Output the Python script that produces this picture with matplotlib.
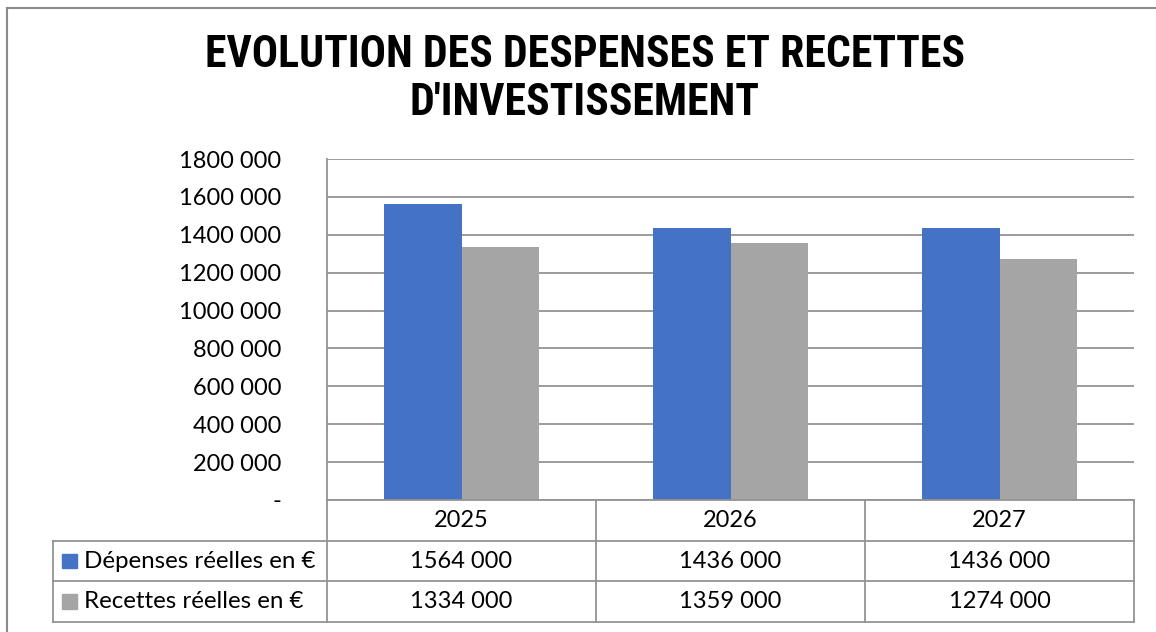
import matplotlib.pyplot as plt
from matplotlib import font_manager
from matplotlib.patches import Rectangle
from matplotlib.lines import Line2D
from matplotlib.ticker import FuncFormatter

years = ["2025", "2026", "2027"]
depenses = [1564000, 1436000, 1436000]
recettes = [1334000, 1359000, 1274000]
series_names = ["Dépenses réelles en €", "Recettes réelles en €"]
series_colors = ["#4472C4", "#A5A5A5"]
title = "EVOLUTION DES DESPENSES ET RECETTES\nD'INVESTISSEMENT"

W, H = 1156, 632
LINE_C = "#939393"
TXT_FONT = ["Lato", "DejaVu Sans"]


def fmt(v):
    # excel style "# ##0", zero shown as a dash
    if v == 0:
        return "-"
    v = int(round(v))
    if v < 1000:
        return str(v)
    return f"{v // 1000} {v % 1000:03d}"


def has_font(name):
    try:
        font_manager.findfont(font_manager.FontProperties(family=name),
                              fallback_to_default=False)
        return True
    except Exception:
        return False


def main():
    fig = plt.figure(figsize=(W / 100, H / 100), dpi=100)

    # plot area, pixel box 327..1134 x 159..500
    ax = fig.add_axes([327 / W, 1 - 500 / H, (1134 - 327) / W, (500 - 159) / H])
    x = list(range(len(years)))
    bw = 0.288
    ax.bar([i - bw / 2 for i in x], depenses, width=bw, color=series_colors[0], zorder=3)
    ax.bar([i + bw / 2 for i in x], recettes, width=bw, color=series_colors[1], zorder=3)
    ax.set_xlim(-0.5, len(years) - 0.5)
    ax.set_ylim(0, 1800000)
    ax.set_yticks(range(0, 1800001, 200000))
    ax.yaxis.set_major_formatter(FuncFormatter(lambda v, p: fmt(v)))
    ax.set_xticks([])
    ax.tick_params(axis="y", length=0, pad=33, labelsize=17)
    for lab in ax.get_yticklabels():
        lab.set_family(TXT_FONT)
    ax.grid(axis="y", color=LINE_C, linewidth=1.3, zorder=0)
    for s in ["top", "right", "bottom"]:
        ax.spines[s].set_visible(False)
    ax.spines["left"].set_color(LINE_C)
    ax.spines["left"].set_linewidth(1.3)

    # data table, pixel rows 500..622
    tax = fig.add_axes([327 / W, 1 - 622 / H, (1134 - 327) / W, (622 - 500) / H])
    tax.set_xlim(-0.5, len(years) - 0.5)
    tax.set_ylim(3, 0)
    tax.axis("off")
    x_left = -0.5 - (327 - 53) / 269
    lk = dict(color=LINE_C, linewidth=1.3, clip_on=False)
    tax.plot([-0.5, 2.5], [0, 0], **lk)
    for r in [1, 2, 3]:
        tax.plot([x_left, 2.5], [r, r], **lk)
    for c in [-0.5, 0.5, 1.5, 2.5]:
        tax.plot([c, c], [0, 3], **lk)
    tax.plot([x_left, x_left], [1, 3], **lk)

    for i, y in enumerate(years):
        tax.text(i, 0.5, y, ha="center", va="center", fontsize=17, family=TXT_FONT)
    for r, vals in enumerate([depenses, recettes]):
        for i, v in enumerate(vals):
            tax.text(i, r + 1.5, fmt(v), ha="center", va="center", fontsize=17, family=TXT_FONT)
        sq_x = -0.5 - (327 - 62) / 269
        tax.add_patch(Rectangle((sq_x, r + 1.5 - 0.18), 15 / 269, 0.36,
                                color=series_colors[r], clip_on=False))
        tax.text(-0.5 - (327 - 84) / 269, r + 1.5, series_names[r], ha="left", va="center",
                 fontsize=17.4, family=TXT_FONT)

    # title: narrow bold face if one is installed
    title_font, title_size = "Liberation Sans", 24
    for name, size in [("Liberation Sans Narrow", 31.5), ("Roboto Condensed", 31.5),
                       ("Open Sans Condensed", 31.5)]:
        if has_font(name):
            title_font, title_size = name, size
            break
    fig.text(585 / W, 1 - 79 / H, title, ha="center", va="center", fontsize=title_size,
             fontweight="bold", family=[title_font, "DejaVu Sans"],
             linespacing=1.18)

    # outer chart border (cut by the image edges)
    bx, by = 7 / W, 1 - 8 / H
    fig.add_artist(Line2D([bx, bx], [0, by], color="#8a8a8a", linewidth=1.5))
    fig.add_artist(Line2D([bx, 1], [by, by], color="#8a8a8a", linewidth=1.5))

    fig.savefig("out.png", dpi=100)


if __name__ == "__main__":
    main()
